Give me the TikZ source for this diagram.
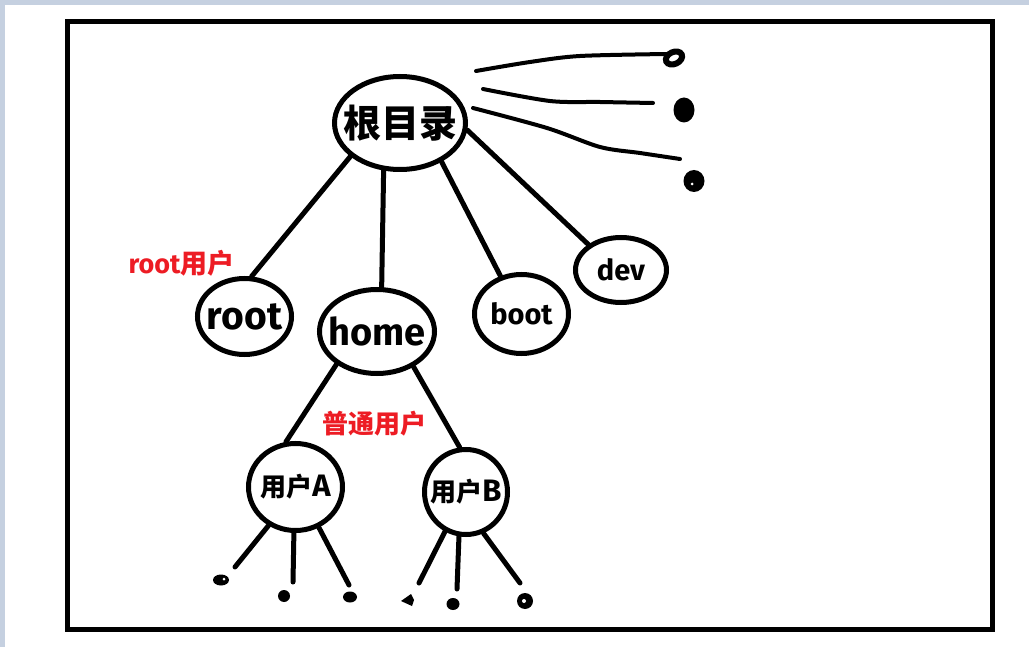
\documentclass[tikz,border=0pt]{standalone}
\usepackage{fontspec}
\setmainfont{Fira Sans}[BoldFont={Fira Sans Bold}]
\newfontfamily\cjk{Noto Sans CJK SC}
\usetikzlibrary{shapes.geometric}
\definecolor{strip}{RGB}{197,208,224}
\definecolor{paintred}{RGB}{237,28,36}
\newcommand{\fsz}[1]{\fontsize{#1}{#1}\selectfont}
\begin{document}
\begin{tikzpicture}[x=1pt,y=-1pt,
  bub/.style={draw,ellipse,line width=5pt,inner sep=0pt},
  edge/.style={line width=5pt,line cap=round},
  scrib/.style={line width=4pt,line cap=round,line join=round},
  lab/.style={text=paintred,inner sep=0pt}]
\useasboundingbox (0,0) rectangle (1029,647);
\fill[strip] (0,0) rectangle (1029,5);
\fill[strip] (0,0) rectangle (5,647);
\draw[line width=5pt] (67.5,21.5) rectangle (992.5,629.5);

% nodes (ellipse sizes fixed, text set as centred labels)
\node[bub,minimum width=131pt,minimum height=93pt,
  label={[inner sep=0pt]center:{\fsz{38}\cjk\bfseries 根目录}}] (R) at (400,123) {};
\node[bub,minimum width=94pt,minimum height=76pt,
  label={[inner sep=0pt]center:{\fsz{39}\bfseries root}}] (root) at (244.5,316.5) {};
\node[bub,minimum width=115pt,minimum height=84pt,
  label={[inner sep=0pt]center:{\fsz{38}\bfseries home}}] (home) at (377,331.5) {};
\node[bub,minimum width=94pt,minimum height=79pt,
  label={[inner sep=0pt]center:{\fsz{29}\bfseries boot}}] (boot) at (521.5,314) {};
\node[bub,minimum width=91pt,minimum height=65pt,
  label={[inner sep=0pt]center:{\fsz{29}\bfseries dev}}] (dev) at (621,270) {};
\node[bub,minimum width=94pt,minimum height=87pt,
  label={[inner sep=0pt]center:{\fsz{26}{\cjk\bfseries 用户}\fsz{31}\bfseries A}}] (A) at (295.5,487) {};
\node[bub,minimum width=83pt,minimum height=85pt,
  label={[inner sep=0pt]center:{\fsz{26}{\cjk\bfseries 用户}\fsz{31}\bfseries B}}] (B) at (466,492) {};

% labels
\node[lab] (l1) at (181.5,263) {\fsz{27}\bfseries root{\cjk\bfseries 用户}};
\node[lab] (l2) at (374,424) {\fsz{26}\cjk\bfseries 普通用户};

% connectors
\draw[edge] (R.214) -- (root.80);
\draw[edge] (R.251) -- (home.84);
\draw[edge] (R.317) -- (boot.119);
\draw[edge] (R.354) -- (dev.142);
\draw[edge] (home.219) -- (A.102);
\draw[edge] (home.316) -- (B.98);

\coordinate (a1) at (235,567);
\coordinate (a2) at (293,582);
\coordinate (a3) at (349,585);
\coordinate (b1) at (419,583);
\coordinate (b2) at (457,589);
\coordinate (b3) at (520,583);
\draw[edge] (A.235) -- (a1);
\draw[edge] (A.268) -- (a2);
\draw[edge] (A.300) -- (a3);
\draw[edge] (B.242) -- (b1);
\draw[edge] (B.261) -- (b2);
\draw[edge] (B.293) -- (b3);

% scribbles near root directory
\draw[scrib] plot[smooth] coordinates {(476,71) (530,62) (580,56) (667,54)};
\draw[scrib] plot[smooth] coordinates {(483,89) (550,101) (600,102) (653,103)};
\draw[scrib] plot[smooth] coordinates {(473,108) (547,128) (600,147) (640,153) (680,159)};
\draw[line width=6pt,rotate around={25:(674,58)}] (674,58) ellipse (8.5 and 6);
\fill (684,110) ellipse (10.5 and 12.5);
\fill (694,181) ellipse (10.5 and 11);
\fill[white] (692,184) circle (1.5);

% small blobs at the leaves
\fill (221,580) ellipse (8 and 5.5);
\fill[white] (224,579) circle (1.5);
\fill (284,596) ellipse (6 and 6);
\fill (350,597) ellipse (7 and 5.5);
\fill (401,601) -- (411,594) -- (414,600) -- (412,606) -- cycle;
\fill (453,604) ellipse (6.5 and 6);
\fill (525,601) ellipse (8 and 8);
\fill[white] (524,601) circle (2);
\end{tikzpicture}
\end{document}
